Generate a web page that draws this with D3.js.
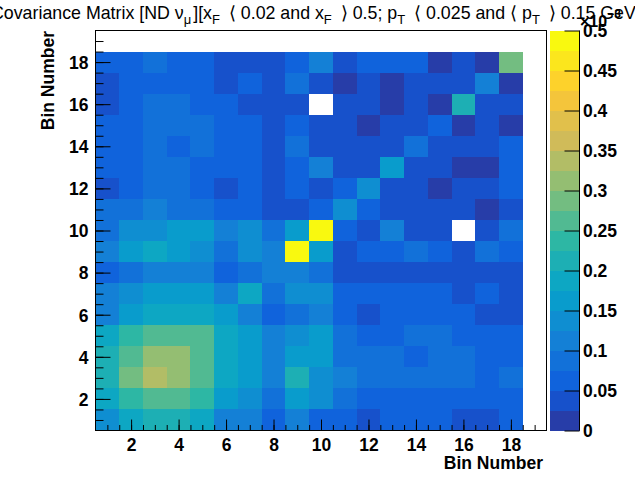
<!DOCTYPE html>
<html><head><meta charset="utf-8">
<script src="https://cdn.jsdelivr.net/npm/d3@7"></script>
<style>
body{margin:0;background:#fff}
svg{display:block}
text{font-family:"Liberation Sans",Arial,Helvetica,sans-serif}
</style>
</head><body>
<svg id="c" width="635" height="477"></svg>
<script>
// ---------------- data (values in units of 1e-3) ----------------
const xBins = [1,2,3,4,5,6,7,8,9,10,11,12,13,14,15,16,17,18];
const yBins = [1,2,3,4,5,6,7,8,9,10,11,12,13,14,15,16,17,18];
const axisTicks = [2,4,6,8,10,12,14,16,18];
const zTicks = [0,0.05,0.1,0.15,0.2,0.25,0.3,0.35,0.4,0.45,0.5];
const zTickLabels = ["0","0.05","0.1","0.15","0.2","0.25","0.3","0.35","0.4","0.45","0.5"];
// each row = one y bin, columns = x bins 1..18
const row01 = [0.14,0.19,0.21,0.21,0.19,0.11,0.11,0.063,0.11,0.063,0.063,0.038,0.063,0.063,0.063,0.038,0.038,0.063];
const row02 = [0.19,0.24,0.26,0.26,0.24,0.16,0.14,0.088,0.16,0.14,0.088,0.063,0.063,0.063,0.063,0.063,0.063,0.063];
const row03 = [0.21,0.29,0.34,0.31,0.26,0.19,0.16,0.11,0.21,0.14,0.11,0.088,0.088,0.088,0.088,0.088,0.063,0.088];
const row04 = [0.21,0.26,0.31,0.31,0.26,0.19,0.16,0.11,0.16,0.16,0.088,0.088,0.088,0.063,0.088,0.088,0.063,0.063];
const row05 = [0.19,0.24,0.26,0.26,0.26,0.19,0.16,0.11,0.14,0.16,0.088,0.063,0.063,0.088,0.088,0.063,0.063,0.063];
const row06 = [0.11,0.16,0.19,0.19,0.19,0.16,0.11,0.063,0.088,0.11,0.063,0.038,0.063,0.063,0.063,0.063,0.038,0.038];
const row07 = [0.11,0.14,0.16,0.16,0.16,0.11,0.19,0.088,0.14,0.14,0.063,0.063,0.063,0.063,0.063,0.038,0.063,0.038];
const row08 = [0.063,0.088,0.11,0.11,0.11,0.063,0.088,0.11,0.11,0.088,0.038,0.038,0.038,0.038,0.038,0.038,0.038,0.038];
const row09 = [0.11,0.16,0.19,0.16,0.14,0.088,0.14,0.11,0.49,0.16,0.038,0.063,0.063,0.088,0.063,0.038,0.088,0.063];
const row10 = [0.088,0.14,0.14,0.16,0.16,0.11,0.14,0.088,0.16,0.49,0.063,0.038,0.11,0.038,0.038,0.58,0.038,0.088];
const row11 = [0.088,0.088,0.11,0.088,0.088,0.063,0.063,0.038,0.038,0.063,0.14,0.063,0.038,0.038,0.038,0.038,0.013,0.038];
const row12 = [0.038,0.063,0.088,0.088,0.063,0.038,0.063,0.038,0.063,0.038,0.063,0.14,0.038,0.038,0.013,0.038,0.038,0.063];
const row13 = [0.063,0.063,0.088,0.088,0.063,0.063,0.063,0.038,0.063,0.11,0.038,0.038,0.16,0.038,0.038,0.013,0.013,0.063];
const row14 = [0.063,0.063,0.088,0.063,0.088,0.063,0.063,0.038,0.088,0.038,0.038,0.038,0.038,0.088,0.038,0.038,0.038,0.063];
const row15 = [0.063,0.063,0.088,0.088,0.088,0.063,0.063,0.038,0.063,0.038,0.038,0.013,0.038,0.038,0.063,0.013,0.038,0.013];
const row16 = [0.038,0.063,0.088,0.088,0.063,0.063,0.038,0.038,0.038,0.58,0.038,0.038,0.013,0.038,0.013,0.21,0.038,0.038];
const row17 = [0.038,0.063,0.063,0.063,0.063,0.038,0.063,0.038,0.088,0.038,0.013,0.038,0.013,0.038,0.038,0.038,0.11,0.013];
const row18 = [0.063,0.063,0.088,0.063,0.063,0.038,0.038,0.038,0.063,0.11,0.038,0.063,0.063,0.063,0.013,0.038,0.013,0.29];
const rows = [row01,row02,row03,row04,row05,row06,row07,row08,row09,row10,row11,row12,row13,row14,row15,row16,row17,row18];
const zMin = 0, zMax = 0.5, nLevels = 20;

// ---------------- ROOT kBird palette ----------------
const birdStops = [0,0.125,0.25,0.375,0.5,0.625,0.75,0.875,1];
const birdR = [0.2082,0.0592,0.0780,0.0232,0.1802,0.5301,0.8186,0.9956,0.9764];
const birdG = [0.1664,0.3599,0.5041,0.6419,0.7178,0.7492,0.7328,0.7862,0.9832];
const birdB = [0.5293,0.8684,0.8385,0.7914,0.6425,0.4662,0.3499,0.1968,0.0539];
const interpR = d3.scaleLinear().domain(birdStops).range(birdR);
const interpG = d3.scaleLinear().domain(birdStops).range(birdG);
const interpB = d3.scaleLinear().domain(birdStops).range(birdB);
function bird(t){ return d3.rgb(interpR(t)*255, interpG(t)*255, interpB(t)*255).formatHex(); }
const levelColors = d3.range(nLevels).map(i => bird(Math.floor((i+0.99)*255/nLevels)/255));
const color = d3.scaleQuantize().domain([zMin,zMax]).range(levelColors);

// ---------------- layout ----------------
const svg = d3.select("#c");
const fx0 = 95.5, fx1 = 546.5, fy0 = 30.5, fy1 = 430.5;
const x = d3.scaleLinear().domain([0.5,19.5]).range([fx0,fx1]);
const y = d3.scaleLinear().domain([0.5,19.5]).range([fy1,fy0]);

// cells
const cells = [];
rows.forEach((r,j) => r.forEach((v,i) => cells.push({xb:xBins[i], yb:yBins[j], v})));
svg.append("g").attr("shape-rendering","crispEdges")
  .selectAll("rect").data(cells.filter(d => d.v >= zMin && d.v <= zMax)).join("rect")
  .attr("x", d => x(d.xb-0.5)).attr("y", d => y(d.yb+0.5))
  .attr("width", d => x(d.xb+0.5)-x(d.xb-0.5))
  .attr("height", d => y(d.yb-0.5)-y(d.yb+0.5))
  .attr("fill", d => color(d.v));

// frame
svg.append("rect").attr("x",fx0).attr("y",fy0).attr("width",fx1-fx0).attr("height",fy1-fy0)
  .attr("fill","none").attr("stroke","#000").attr("stroke-width",1);

const minorVals = d3.range(1,39).map(k => 0.5*k).filter(v => v>0.5 && v<19.5);
const tickFont = "bold 17.5px 'Liberation Sans', Arial, sans-serif";

// x axis (ticks inside)
const gx = svg.append("g").attr("transform",`translate(0,${fy1})`);
gx.call(d3.axisBottom(x).tickValues(minorVals).tickSize(-5.5).tickFormat(""));
gx.append("g").call(d3.axisBottom(x).tickValues(axisTicks).tickSize(-11).tickPadding(20).tickFormat(d3.format("d")));
gx.selectAll(".domain").remove();
gx.selectAll("line").attr("stroke","#000");
gx.selectAll("text").attr("fill","#000").style("font", tickFont).attr("dy","0");

// y axis
const gy = svg.append("g").attr("transform",`translate(${fx0},0)`);
gy.call(d3.axisLeft(y).tickValues(minorVals).tickSize(-8).tickFormat(""));
gy.append("g").call(d3.axisLeft(y).tickValues(axisTicks).tickSize(-15).tickPadding(7).tickFormat(d3.format("d")));
gy.selectAll(".domain").remove();
gy.selectAll("line").attr("stroke","#000");
gy.selectAll("text").attr("fill","#000").style("font", tickFont).attr("dy","0.36em");

// axis titles
svg.append("text").attr("x",543).attr("y",469).attr("text-anchor","end")
  .style("font","bold 17.5px 'Liberation Sans', Arial, sans-serif").text("Bin Number");
svg.append("text").attr("transform","translate(54,31) rotate(-90)").attr("text-anchor","end")
  .style("font","bold 17.5px 'Liberation Sans', Arial, sans-serif").text("Bin Number");

// ---------------- color bar ----------------
const cbx0 = 550, cbx1 = 579.5;
const z = d3.scaleLinear().domain([zMin,zMax]).range([fy1,fy0]);
const levels = d3.range(nLevels).map(i => zMin + i*(zMax-zMin)/nLevels);
svg.append("g").attr("shape-rendering","crispEdges")
  .selectAll("rect").data(levels).join("rect")
  .attr("x",cbx0).attr("width",cbx1-cbx0)
  .attr("y", d => z(d+(zMax-zMin)/nLevels)).attr("height", d => z(d)-z(d+(zMax-zMin)/nLevels))
  .attr("fill", (d,i) => levelColors[i]);
const gz = svg.append("g").attr("transform",`translate(${cbx1},0)`);
gz.call(d3.axisRight(z).tickValues(zTicks).tickSize(-15).tickPadding(4).tickFormat((d,i) => zTickLabels[i]));
gz.selectAll(".domain").attr("stroke","#000").attr("d",`M0,${fy1}V${fy0}`);
gz.selectAll("line").attr("stroke","#000");
gz.selectAll("text").attr("fill","#000").style("font", tickFont).attr("dy","0.36em").attr("x",3.5);

// ---------------- title ----------------
const title = svg.append("text").attr("x",-9).attr("y",19).attr("text-anchor","start")
  .style("font","17.8px 'Liberation Sans', Arial, sans-serif");
const parts = [
  ["Covariance Matrix [ND \u03BD",0],["\u03BC",1],["][x",0],["F",1],[" \u27E8 0.02 and x",0],["F",1],
  [" \u27E9 0.5; p",0],["T",1],[" \u27E8 0.025 and \u27E8 p",0],["T",1],[" \u27E9 0.15 GeV/c]",0]
];
let prevSub = 0;
parts.forEach(([t,s],k) => {
  const ts = title.append("tspan").text(t);
  if (s) ts.style("font-size","13px");
  if (s && !prevSub) ts.attr("dy",5);
  else if (!s && prevSub) ts.attr("dy",-5).attr("dx", k > 2 ? 4 : 2);
  prevSub = s;
});

// exponent label
const ex = svg.append("text").attr("x",580).attr("y",27).style("font","bold 16px 'Liberation Sans', Arial, sans-serif");
ex.append("tspan").text("\u00D710");
ex.append("tspan").attr("dy",-9).style("font-size","12px").text("\u22123");
</script>
</body></html>
